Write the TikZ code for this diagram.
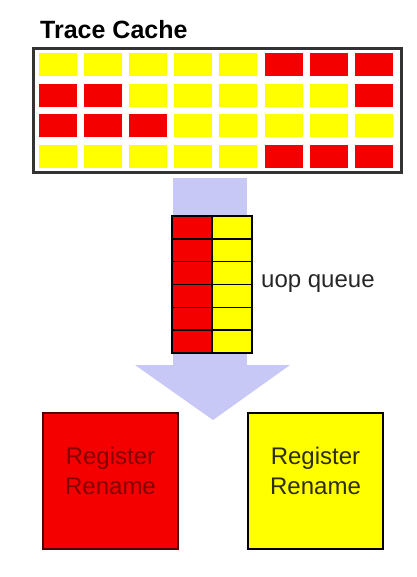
\documentclass[tikz,border=0pt]{standalone}
\usepackage{fontspec}
\setmainfont{Liberation Sans}
\usetikzlibrary{positioning}
\definecolor{cellred}{RGB}{245,0,0}
\definecolor{cellyel}{RGB}{255,255,0}
\colorlet{R}{cellred}
\colorlet{Y}{cellyel}
\definecolor{flowblue}{RGB}{200,200,246}
\definecolor{textred}{RGB}{130,0,0}
\definecolor{textyel}{RGB}{45,45,0}
\tikzset{
  tccell/.style={fill=#1},
  qcell/.style={draw=black,line width=1.4pt,fill=#1},
  rrbox/.style={draw=black,line width=1.6pt,minimum width=135pt,minimum height=136pt,inner sep=0pt},
  rrtext/.style={align=center,font=\fontsize{24}{30}\selectfont}
}
\begin{document}
\begin{tikzpicture}[x=1pt,y=-1pt]
  \useasboundingbox (0,0) rectangle (416,577);
  % trace cache
  \node[anchor=base west,font=\fontsize{25}{27}\selectfont\bfseries,inner sep=0pt] (tctitle) at (40,39) {Trace Cache};
  \foreach \pat [count=\j from 0] in {{Y,Y,Y,Y,Y,R,R,R},{R,R,Y,Y,Y,Y,Y,R},{R,R,R,Y,Y,Y,Y,Y},{Y,Y,Y,Y,Y,R,R,R}}
    \foreach \c [count=\i from 0] in \pat
      \fill[tccell=\c] ({39+45.1*\i},{53+30.6*\j}) rectangle ++(38,23);
  \draw[line width=2.6pt,draw=black!80] (33.5,48.5) rectangle (401.5,172.5);
  \coordinate (tc) at (210,173);
  % flow arrow
  \fill[flowblue] (173,178) rectangle (247,366);
  \fill[flowblue] (135,365) -- (290,365) -- (213,420) -- cycle;
  % uop queue
  \foreach \k in {0,...,5} {
    \draw[qcell=cellred] (172,{216+22.83*\k}) rectangle ++(40,22.83);
    \draw[qcell=cellyel] (212,{216+22.83*\k}) rectangle ++(40,22.83);
  }
  \coordinate (q) at (252,284);
  \node[right=9pt of q,font=\fontsize{24}{27}\selectfont,inner sep=0pt,text=black!85] (qlabel) {uop queue};
  % register rename
  \node[rrbox,fill=cellred,draw=black!70!red] (rrA) at (110.5,481) {};
  \node[rrbox,fill=cellyel] (rrB) at (315.5,481) {};
  \node[rrtext,text=textred] (rrAt) at ([yshift=10pt]rrA.center) {Register\\Rename};
  \node[rrtext,text=textyel] (rrBt) at ([yshift=10pt]rrB.center) {Register\\Rename};
\end{tikzpicture}
\end{document}
